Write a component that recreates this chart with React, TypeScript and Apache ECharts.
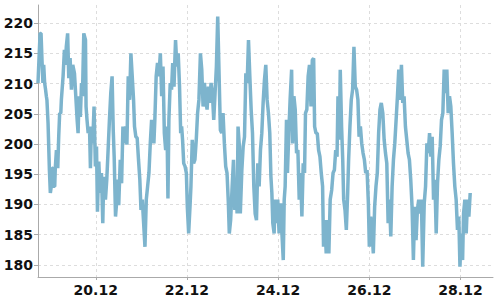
import React, { useEffect, useRef } from "react";
import * as echarts from "echarts";

// hours since 18.12 00:00
const hours: number[] = [
  17.6, 18.1, 18.7, 19.2, 19.7, 20.2, 20.6, 21.1, 21.5, 22.0,
  22.3, 22.9, 23.2, 23.6, 24.1, 24.6, 25.0, 25.5, 25.9, 26.4,
  26.7, 27.3, 28.0, 28.5, 29.0, 29.6, 29.9, 30.8, 31.5, 32.0,
  32.5, 33.2, 33.8, 34.5, 35.2, 35.9, 36.8, 37.6, 38.2, 38.7,
  39.2, 39.9, 40.5, 41.0, 41.7, 42.6, 42.9, 43.4, 44.0, 44.7,
  45.2, 45.7, 46.4, 47.1, 47.8, 48.4, 48.9, 49.6, 50.3, 51.0,
  51.7, 52.2, 53.1, 53.8, 54.5, 55.2, 55.9, 56.6, 57.2, 57.7,
  58.4, 59.1, 59.6, 60.1, 60.9, 61.6, 62.3, 63.0, 63.7, 64.4,
  65.1, 65.8, 66.5, 67.2, 67.9, 68.4, 69.1, 69.8, 70.5, 71.2,
  71.8, 72.5, 73.2, 73.9, 74.6, 75.3, 76.0, 76.7, 77.4, 78.1,
  78.6, 79.1, 79.8, 80.5, 81.2, 82.0, 82.7, 83.4, 84.1, 84.8,
  85.5, 86.0, 86.5, 87.2, 87.9, 88.5, 89.2, 89.7, 90.0, 90.7,
  91.4, 92.1, 92.7, 93.2, 93.7, 94.3, 95.0, 95.7, 96.2, 96.9,
  97.6, 98.1, 98.8, 99.5, 100.2, 100.9, 101.6, 102.3, 103.1, 103.8,
  104.5, 105.2, 105.9, 106.6, 107.3, 108.0, 108.7, 109.4, 110.1, 110.8,
  111.5, 112.2, 112.9, 113.6, 114.3, 115.0, 115.7, 116.4, 117.1, 117.8,
  118.3, 119.0, 119.8, 120.5, 121.2, 121.9, 122.4, 122.9, 123.6, 124.1,
  124.9, 125.6, 126.3, 127.0, 127.7, 128.4, 129.1, 129.8, 130.5, 131.2,
  131.9, 132.6, 133.3, 134.0, 134.7, 135.4, 136.1, 136.8, 137.5,
  138.2, 138.9, 139.6, 140.2, 140.7, 141.2, 141.9, 142.4, 143.1, 143.8,
  144.5, 145.3, 146.0, 146.7, 147.2, 147.7, 148.4, 148.9, 149.6, 150.3,
  151.1, 151.6, 152.3, 153.0, 153.7, 154.4, 155.1, 155.8, 156.5, 157.2,
  157.9, 158.4, 159.1, 159.8, 160.5, 161.3, 162.0, 162.7, 163.2, 163.9,
  164.6, 165.3, 166.0, 166.7, 167.4, 167.9, 168.6, 169.3, 170.0, 170.7,
  171.4, 172.2, 172.9, 173.6, 174.3, 175.0, 175.5, 176.2, 176.7, 177.4,
  178.0, 178.5, 179.2, 179.9, 180.6, 181.1, 181.8, 182.5, 183.2, 183.9,
  184.6, 185.3, 186.0, 186.6, 187.3, 188.0, 188.7, 189.4, 190.1, 190.8,
  191.5, 192.0, 192.7, 193.4, 194.1, 194.8, 195.5, 196.2, 196.9, 197.6,
  198.3, 199.1, 199.8, 200.5, 201.2, 201.9, 202.6, 203.3, 204.0, 204.7,
  205.4, 206.1, 206.8, 207.5, 208.2, 208.9, 209.6, 210.3, 211.0, 211.7,
  212.4, 213.1, 213.8, 214.5, 215.2, 215.9, 216.6, 217.3, 218.0, 218.7,
  219.4, 220.1, 220.9, 221.6, 222.3, 223.0, 223.7, 224.4, 225.1, 225.8,
  226.5, 227.2, 227.9, 228.6, 229.3, 230.0, 230.7, 231.4, 232.1, 232.8,
  233.5, 234.2, 234.9, 235.6, 236.3, 237.0, 237.7, 238.4, 239.1, 239.7,
  240.4, 241.1, 241.6, 242.3, 243.0, 243.7, 244.4, 245.1,
];

const prices: number[] = [
  210.1, 213.9, 218.3, 218.3, 213.9, 210.1, 213.1, 210.1, 209.2, 207.9,
  207.3, 203.4, 200.1, 195.7, 191.9, 193.0, 196.0, 196.0, 193.0, 193.0,
  196.0, 199.0, 196.0, 201.2, 205.1, 205.1, 207.3, 211.2, 215.6, 213.1,
  216.1, 218.3, 210.9, 214.2, 209.0, 213.1, 211.7, 207.3, 204.0, 201.8,
  207.9, 204.5, 210.1, 207.9, 218.3, 217.2, 206.2, 204.0, 201.8, 202.9,
  196.0, 202.9, 200.1, 206.2, 196.3, 199.6, 188.8, 197.1, 191.9, 195.2,
  186.9, 194.6, 190.8, 194.1, 199.0, 204.0, 208.4, 211.2, 202.3, 197.9,
  188.0, 190.8, 194.1, 189.9, 197.4, 193.5, 202.9, 200.1, 202.9, 199.9,
  211.2, 207.3, 215.0, 211.2, 207.3, 202.9, 201.2, 201.0, 197.4, 194.1,
  189.1, 190.8, 186.9, 183.0, 190.8, 193.0, 195.2, 200.1, 204.0, 202.3,
  200.1, 204.0, 211.2, 213.4, 211.2, 215.0, 207.9, 212.8, 201.8, 199.0,
  202.9, 191.0, 204.0, 210.1, 209.0, 213.4, 209.5, 214.5, 217.2, 212.8,
  215.0, 209.5, 201.8, 202.9, 200.7, 196.8, 196.3, 195.2, 189.6, 185.2,
  189.6, 193.0, 200.7, 196.8, 197.4, 200.7, 205.1, 207.3, 215.0, 212.3,
  206.2, 210.1, 207.3, 205.7, 209.5, 206.8, 210.1, 208.4, 204.0, 208.4,
  212.8, 221.1, 211.7, 202.3, 201.8, 205.1, 200.1, 196.3, 195.2, 190.2,
  185.2, 187.4, 193.0, 197.4, 189.1, 193.0, 188.5, 202.9, 199.6, 188.5,
  195.7, 199.6, 201.2, 211.7, 210.1, 217.2, 211.2, 205.7, 201.8, 193.0,
  188.5, 187.4, 196.8, 193.0, 199.0, 201.8, 206.8, 210.6, 213.1,
  207.3, 205.1, 201.8, 194.6, 191.9, 186.9, 185.2, 190.8, 186.9, 190.8,
  185.2, 190.2, 185.2, 180.8, 190.8, 193.0, 204.0, 195.2, 201.8, 207.3,
  212.3, 200.1, 207.9, 205.7, 198.5, 199.0, 190.8, 195.2, 188.0, 196.8,
  195.2, 205.1, 205.7, 211.2, 213.1, 206.2, 213.9, 214.2, 202.9, 201.8,
  201.8, 199.0, 197.9, 195.2, 193.0, 183.0, 187.4, 181.9, 187.4, 181.9,
  190.8, 192.4, 195.2, 195.7, 199.0, 197.9, 207.9, 200.7, 212.3, 202.9,
  197.4, 190.8, 189.1, 185.8, 191.9, 197.4, 202.9, 207.3, 209.0, 216.1,
  209.5, 209.0, 207.3, 201.2, 202.9, 200.1, 198.5, 197.4, 195.2, 195.7,
  190.2, 183.0, 188.0, 185.8, 181.9, 189.6, 193.0, 195.2, 201.8, 205.7,
  206.8, 205.1, 200.7, 198.5, 196.8, 186.9, 190.8, 184.7, 193.0, 197.4,
  200.1, 204.0, 207.9, 212.3, 207.3, 213.1, 206.8, 207.9, 202.9, 200.7,
  198.5, 197.4, 194.1, 189.6, 180.8, 189.6, 184.1, 189.1, 190.8, 188.5,
  190.8, 179.7, 190.2, 193.0, 200.1, 198.5, 201.8, 197.9, 201.2, 190.8,
  194.1, 185.2, 193.5, 197.4, 199.6, 204.0, 205.1, 212.3, 208.4, 212.3,
  205.1, 207.9, 206.2, 201.8, 196.8, 193.0, 190.8, 185.8, 188.0, 179.7,
  185.2, 180.8, 188.5, 190.8, 185.2, 190.8, 188.0, 191.9,
];

const xMinHours = 17.6;
const xMaxHours = 257.1;
const yMin = 178;
const yMax = 223;
const firstDay = 18;
const monthLabel = "12";

export default function App() {
  const ref = useRef<HTMLDivElement>(null);
  useEffect(() => {
    if (!ref.current) return;
    const chart = echarts.init(ref.current, null, { renderer: "svg" });
    const n = Math.min(hours.length, prices.length);
    const data: [number, number][] = [];
    for (let i = 0; i < n; i++) data.push([hours[i] / 24, prices[i]]);
    const labelStyle = {
      color: "#111",
      fontFamily: "DejaVu Sans",
      fontSize: 14,
      fontWeight: "bold" as const,
    };
    chart.setOption({
      animation: false,
      grid: { left: 38, right: 7, top: 5, bottom: 23, containLabel: false },
      xAxis: {
        type: "value",
        min: xMinHours / 24,
        max: xMaxHours / 24,
        splitNumber: 5,
        axisLine: { lineStyle: { color: "#aaa", width: 1 } },
        axisTick: { length: 3, lineStyle: { color: "#aaa" } },
        axisLabel: {
          ...labelStyle,
          margin: 6,
          showMinLabel: false,
          showMaxLabel: false,
          formatter: (v: number) => `${firstDay + Math.round(v)}.${monthLabel}`,
        },
        splitLine: {
          show: true,
          showMinLine: false,
          showMaxLine: false,
          lineStyle: { color: "#ddd", type: [3, 3] },
        },
      },
      yAxis: {
        type: "value",
        min: yMin,
        max: yMax,
        splitNumber: 9,
        axisLine: { show: true, lineStyle: { color: "#aaa", width: 1 } },
        axisTick: { show: true, length: 4, lineStyle: { color: "#aaa" } },
        axisLabel: {
          ...labelStyle,
          margin: 5,
          showMinLabel: false,
          showMaxLabel: false,
          formatter: (v: number) => (v % 5 === 0 ? String(v) : ""),
        },
        splitLine: {
          show: true,
          showMinLine: false,
          showMaxLine: false,
          lineStyle: { color: "#ddd", type: [3, 3] },
        },
      },
      series: [
        {
          type: "line",
          data,
          symbol: "none",
          lineStyle: { color: "#7db4cd", width: 3.5 },
          itemStyle: { color: "#7db4cd" },
        },
      ],
    });
    return () => chart.dispose();
  }, []);
  return (
    <div
      ref={ref}
      style={{ position: "absolute", left: 0, top: 0, width: 500, height: 300 }}
    />
  );
}
